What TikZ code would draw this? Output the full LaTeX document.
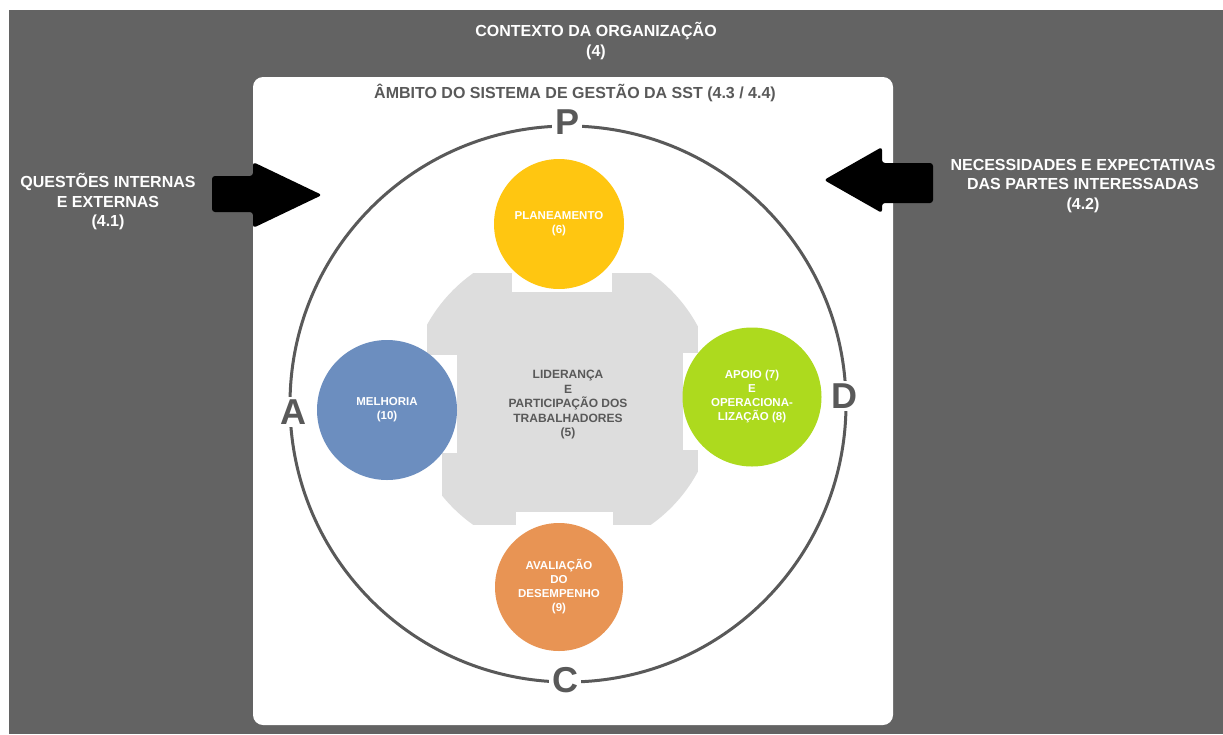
\documentclass[tikz,border=0pt]{standalone}
\usepackage{fontspec}
\setmainfont{Liberation Sans}
\usepackage{tikz}
\usetikzlibrary{positioning}
\definecolor{fundo}{HTML}{636363}
\definecolor{cinzaescuro}{HTML}{595959}
\definecolor{cinzaclaro}{HTML}{DDDDDD}
\definecolor{amarelo}{HTML}{FFC611}
\definecolor{azul}{HTML}{6C8EBF}
\definecolor{verde}{HTML}{ADDA1E}
\definecolor{laranja}{HTML}{E89454}
\tikzset{
    % text on the dark background
    cabecalho/.style={
        text=white,
        font=\bfseries\fontsize{16}{19.5}\selectfont,
        align=center},
    % coloured process circles
    fase/.style={
        circle,
        inner sep=0pt,
        minimum size=130pt,
        text=white,
        font=\bfseries\fontsize{11.5}{14}\selectfont,
        align=center},
    % PDCA letters sitting on the ring
    letra/.style={
        fill=white,
        text=cinzaescuro,
        inner sep=3pt,
        font=\bfseries\fontsize{36}{36}\selectfont},
    % black block arrows
    seta/.style={
        fill=black,
        rounded corners=3pt}
}
\begin{document}
\begin{tikzpicture}[x=1pt,y=-1pt]
    \useasboundingbox (0,0) rectangle (1223,734);
    % background and scope panel
    \fill[fundo] (9,10) rectangle (1223,734);
    \fill[white, rounded corners=10pt] (253,77) rectangle (893,725);

    % headings
    \node[cabecalho] (contexto) at (596,41) {CONTEXTO DA ORGANIZAÇÃO\\(4)};
    \node[cabecalho, text=cinzaescuro] (ambito) at (575,93) {ÂMBITO DO SISTEMA DE GESTÃO DA SST (4.3 / 4.4)};
    \node[cabecalho] (questoes) at (108,202) {QUESTÕES INTERNAS\\E EXTERNAS\\(4.1)};
    \node[cabecalho] (partes) at (1083,186) {NECESSIDADES E EXPECTATIVAS\\DAS PARTES INTERESSADAS\\(4.2)};

    % block arrows pointing into the panel
    \fill[seta] (212,176) -- (253,176) -- (253,162) -- (322,195) -- (253,228) -- (253,212) -- (212,212) -- cycle;
    \fill[seta] (933,163) -- (882,163) -- (882,147) -- (824,180) -- (882,213) -- (882,203) -- (933,203) -- cycle;

    % PDCA ring
    \draw[cinzaescuro, line width=3pt] (568,404) circle (278);

    % leadership block: square with cut corners
    \begin{scope}
        \clip (562,399) circle (154);
        \fill[cinzaclaro] (427,273) rectangle (698,525);
    \end{scope}
    % white gaps behind the circles
    \fill[white] (512,270) rectangle (612,292);
    \fill[white] (424,355) rectangle (457,453);
    \fill[white] (424,453) rectangle (442,530);
    \fill[white] (683,353) rectangle (700,450);
    \fill[white] (516,512) rectangle (613,528);
    \node[text=cinzaescuro, align=center, font=\bfseries\fontsize{12}{14.5}\selectfont] (lideranca) at (568,405)
        {LIDERANÇA\\E\\PARTICIPAÇÃO DOS\\TRABALHADORES\\(5)};

    % process circles
    \node[fase, fill=amarelo] (planeamento) at (559,224) {PLANEAMENTO\\(6)};
    \node[fase, fill=azul, minimum size=140pt] (melhoria) at (387,410) {MELHORIA\\(10)};
    \node[fase, fill=verde, minimum size=139pt] (apoio) at (752,397) {APOIO (7)\\E\\OPERACIONA-\\LIZAÇÃO (8)};
    \node[fase, fill=laranja, minimum size=128pt] (avaliacao) at (559,587) {AVALIAÇÃO\\DO\\DESEMPENHO\\(9)};

    % letters on the ring
    \node[letra] (p) at (567,122) {P};
    \node[letra] (d) at (844,396) {D};
    \node[letra] (c) at (565,680) {C};
    \node[letra] (a) at (293,412) {A};
\end{tikzpicture}
\end{document}
